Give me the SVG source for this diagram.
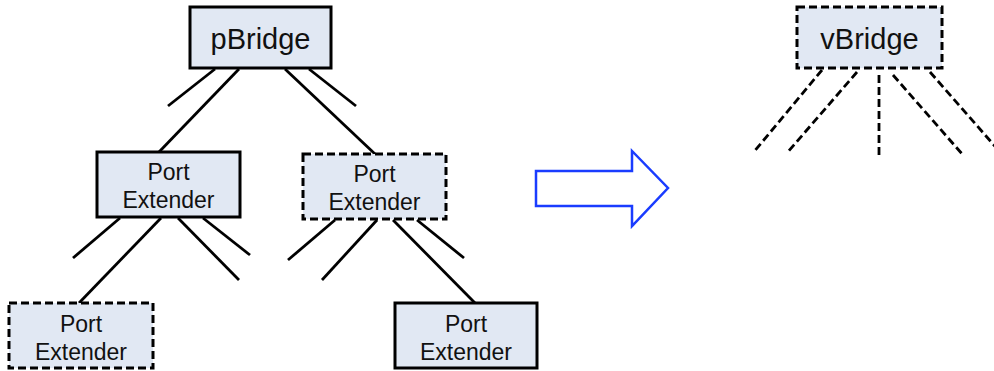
<svg xmlns="http://www.w3.org/2000/svg" width="994" height="371" viewBox="0 0 994 371">
<style>
.box{fill:#e1e8f3;stroke:#000;stroke-width:3}
.dash{stroke-dasharray:8,4}
.t{font-family:"Liberation Sans",Arial,sans-serif;fill:#111;text-anchor:middle}
.big{font-size:29px}
.sm{font-size:23px}
.ln{stroke:#000;stroke-width:2.8;fill:none}
</style>
<rect width="994" height="371" fill="#fff"/>
<g id="connectors">
<line class="ln" x1="215" y1="69" x2="168" y2="106"/>
<line class="ln" x1="239" y1="69" x2="159" y2="152"/>
<line class="ln" x1="285" y1="69" x2="375" y2="154"/>
<line class="ln" x1="309" y1="69" x2="356" y2="106"/>
<line class="ln" x1="120" y1="218" x2="73" y2="258"/>
<line class="ln" x1="161" y1="218" x2="79" y2="303"/>
<line class="ln" x1="178" y1="218" x2="239" y2="280"/>
<line class="ln" x1="203" y1="218" x2="250" y2="255"/>
<line class="ln" x1="335" y1="220" x2="288" y2="260"/>
<line class="ln" x1="377" y1="220" x2="322" y2="280"/>
<line class="ln" x1="393" y1="220" x2="475" y2="303"/>
<line class="ln" x1="417" y1="220" x2="464" y2="258"/>
<line class="ln dash" x1="822" y1="70" x2="753" y2="153"/>
<line class="ln dash" x1="857" y1="72" x2="787" y2="153"/>
<line class="ln dash" x1="879" y1="75" x2="879" y2="155"/>
<line class="ln dash" x1="893" y1="75" x2="963" y2="155"/>
<line class="ln dash" x1="930" y1="72" x2="1000" y2="152"/>
</g>
<g id="pBridge">
<rect class="box" x="190" y="7" width="141" height="61"/>
<text class="t big" x="260.5" y="48.5">pBridge</text>
</g>
<g id="pe-left">
<rect class="box" x="97" y="152" width="143" height="65"/>
<text class="t sm" x="168.5" y="180">Port</text>
<text class="t sm" x="168.5" y="208">Extender</text>
</g>
<g id="pe-right">
<rect class="box dash" x="303" y="154" width="143" height="65"/>
<text class="t sm" x="374.5" y="182">Port</text>
<text class="t sm" x="374.5" y="210">Extender</text>
</g>
<g id="pe-bottom-left">
<rect class="box dash" x="9" y="303" width="144" height="65"/>
<text class="t sm" x="81" y="332">Port</text>
<text class="t sm" x="81" y="360">Extender</text>
</g>
<g id="pe-bottom-right">
<rect class="box" x="395" y="303" width="142" height="65"/>
<text class="t sm" x="466" y="332">Port</text>
<text class="t sm" x="466" y="360">Extender</text>
</g>
<g id="arrow">
<polygon points="536,171 632,171 632,151 668,188 632,226 632,206 536,206" fill="#fff" stroke="#1a3cff" stroke-width="2.5"/>
</g>
<g id="vBridge">
<rect class="box dash" x="797" y="7" width="145" height="61"/>
<text class="t big" x="869.5" y="48.5">vBridge</text>
</g>
</svg>
